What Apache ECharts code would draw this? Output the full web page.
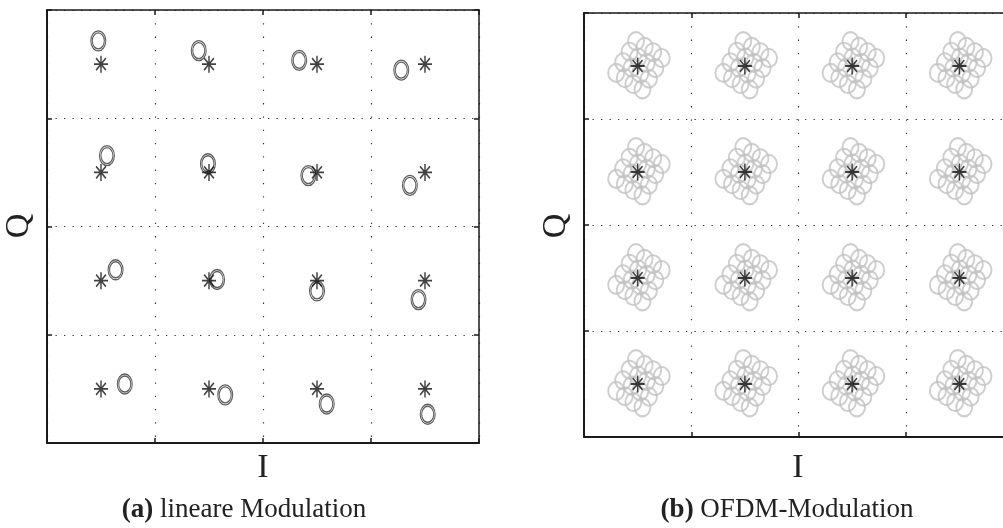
<!DOCTYPE html>
<html>
<head>
<meta charset="utf-8">
<script src="https://cdn.jsdelivr.net/npm/echarts@6/dist/echarts.min.js"></script>
<style>html,body{margin:0;padding:0;background:#fff;}#c{width:1003px;height:528px;}</style>
</head>
<body>
<div id="c"></div>
<script>
// ideal 16-QAM constellation levels (I and Q)
const levels = [-3, -1, 1, 3];
const rowsQ = [3, 1, -1, -3];
// (a) linear modulation: received points (I, Q), row by row from top
const linearRxI = [-3.05, -1.19, 0.67, 2.56,  -2.89, -1.02, 0.84, 2.72,  -2.73, -0.85, 1.00, 2.88,  -2.56, -0.70, 1.18, 3.05];
const linearRxQ = [ 3.43,  3.25, 3.07, 2.89,   1.31,  1.16, 0.94, 0.76,  -0.80, -0.98, -1.19, -1.35, -2.91, -3.11, -3.28, -3.47];
// (b) OFDM: cloud of received points around each ideal point (offsets in I and Q)
const ofdmOffI = [-0.03, 0.13, 0.29, 0.45,  -0.15, 0.01, 0.17, 0.33,  -0.27, -0.11, 0.05, 0.21,  -0.40, -0.24, -0.08, 0.09];
const ofdmOffQ = [ 0.47, 0.36, 0.26, 0.15,   0.27, 0.16, 0.06, -0.04,  0.07, -0.03, -0.14, -0.24, -0.13, -0.23, -0.34, -0.44];

const ideal = [];
rowsQ.forEach(q => levels.forEach(i => ideal.push([i, q])));
const linearRx = linearRxI.map((v, k) => [v, linearRxQ[k]]);
const ofdmRx = [];
ideal.forEach(p => ofdmOffI.forEach((d, k) => ofdmRx.push([p[0] + d, p[1] + ofdmOffQ[k]])));

const STAR = 'path://M0,10L20,10M10,0L10,20M3,3L17,17M17,3L3,17';
const E = 'M20,10C20,15.52 15.52,20 10,20C4.48,20 0,15.52 0,10C0,4.48 4.48,0 10,0C15.52,0 20,4.48 20,10Z';
const E2 = 'M18,10C18,14.42 14.42,18 10,18C5.58,18 2,14.42 2,10C2,5.58 5.58,2 10,2C14.42,2 18,5.58 18,10Z';
const RING2 = 'path://' + E + E2;
const RING = 'path://' + E;

function xAx(gi, pos, split, lw) {
  return {
    gridIndex: gi, type: 'value', min: -4, max: 4, interval: 2, position: pos,
    axisLabel: {show: false},
    axisLine: {show: true, onZero: false, lineStyle: {color: '#1a1a1a', width: lw}},
    axisTick: {show: true, inside: true, length: 5, lineStyle: {color: '#1a1a1a', width: 1.5}},
    splitLine: {show: split, lineStyle: {color: '#333', width: 1.2, type: [1.3, 12]}}
  };
}
function yAx(gi, pos, split, lw) {
  return {
    gridIndex: gi, type: 'value', min: -4, max: 4, interval: 2, position: pos,
    axisLabel: {show: false},
    axisLine: {show: true, onZero: false, lineStyle: {color: '#1a1a1a', width: lw}},
    axisTick: {show: true, inside: true, length: 5, lineStyle: {color: '#1a1a1a', width: 1.5}},
    splitLine: {show: split, lineStyle: {color: '#333', width: 1.2, type: [1.3, 7.2]}}
  };
}

const serif = 'Liberation Serif';
const chart = echarts.init(document.getElementById('c'), null, {renderer: 'canvas'});
chart.setOption({
  animation: false,
  backgroundColor: '#fff',
  grid: [
    {left: 47, top: 10, width: 432, height: 433, outerBoundsMode: 'none', containLabel: false},
    {left: 584, top: 13, width: 429, height: 424, outerBoundsMode: 'none', containLabel: false}
  ],
  xAxis: [xAx(0, 'bottom', true, 2), xAx(0, 'top', false, 1.5), xAx(1, 'bottom', true, 2), xAx(1, 'top', false, 1.5)],
  yAxis: [yAx(0, 'left', true, 2), yAx(0, 'right', false, 1.5), yAx(1, 'left', true, 2), yAx(1, 'right', false, 1.5)],
  series: [
    {type: 'scatter', xAxisIndex: 0, yAxisIndex: 0, data: linearRx, symbol: RING2, symbolSize: [15, 20],
     itemStyle: {color: 'none', borderColor: '#333', borderWidth: 1.2}, z: 3},
    {type: 'scatter', xAxisIndex: 0, yAxisIndex: 0, data: ideal, symbol: STAR, symbolSize: [14, 17],
     itemStyle: {color: 'none', borderColor: '#111', borderWidth: 1.6}, z: 4},
    {type: 'scatter', xAxisIndex: 2, yAxisIndex: 2, data: ofdmRx, symbol: RING, symbolSize: [16, 18],
     itemStyle: {color: 'none', borderColor: '#c2c2c2', borderWidth: 2}, z: 3},
    {type: 'scatter', xAxisIndex: 2, yAxisIndex: 2, data: ideal, symbol: STAR, symbolSize: [14, 17],
     itemStyle: {color: 'none', borderColor: '#111', borderWidth: 1.6}, z: 4}
  ],
  graphic: [
    {type: 'text', x: 263, y: 468, style: {text: 'I', font: '34px "' + serif + '"', fill: '#222', align: 'center', verticalAlign: 'middle'}},
    {type: 'text', x: 798, y: 468, style: {text: 'I', font: '34px "' + serif + '"', fill: '#222', align: 'center', verticalAlign: 'middle'}},
    {type: 'text', x: 19, y: 226, rotation: Math.PI / 2, style: {text: 'Q', font: '34px "' + serif + '"', fill: '#222', align: 'center', verticalAlign: 'middle'}},
    {type: 'text', x: 556, y: 226, rotation: Math.PI / 2, style: {text: 'Q', font: '34px "' + serif + '"', fill: '#222', align: 'center', verticalAlign: 'middle'}},
    {type: 'text', x: 244, y: 510, style: {text: '{b|(a)} lineare Modulation', font: '27px "' + serif + '"', fill: '#222', align: 'center', verticalAlign: 'middle',
      rich: {b: {fontWeight: 'bold', fontSize: 27, fontFamily: serif, fill: '#222'}}}},
    {type: 'text', x: 787, y: 510, style: {text: '{b|(b)} OFDM-Modulation', font: '27px "' + serif + '"', fill: '#222', align: 'center', verticalAlign: 'middle',
      rich: {b: {fontWeight: 'bold', fontSize: 27, fontFamily: serif, fill: '#222'}}}}
  ]
});
</script>
</body>
</html>
